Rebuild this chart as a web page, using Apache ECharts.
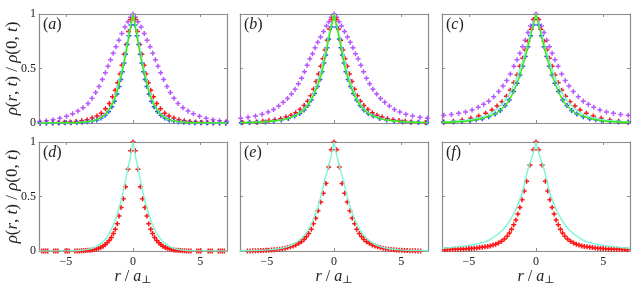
<!DOCTYPE html>
<html><head><meta charset="utf-8">
<script src="https://cdn.jsdelivr.net/npm/echarts@6/dist/echarts.min.js"></script>
<style>html,body{margin:0;padding:0;background:#fff}#c{width:636px;height:287px}</style>
</head><body><div id="c"></div>
<script>
// ---- data (right half r>=0, profiles are symmetric in r) ----
const xTicks = [-5, 0, 5];
const yTicks = [0, 0.5, 1];
const panelLabels = ['a','b','c','d','e','f'];

const purpleA = [[0,1],[0.18,0.97],[0.37,0.93],[0.6,0.88],[0.84,0.82],[1.05,0.76],[1.27,0.7],[1.47,0.64],[1.67,0.58],[1.86,0.52],[2.06,0.46],[2.28,0.4],[2.53,0.335],[2.78,0.28],[3.05,0.227],[3.35,0.18],[3.72,0.14],[4.1,0.11],[4.5,0.085],[4.95,0.062],[5.45,0.044],[5.95,0.03],[6.45,0.02],[6.95,0.014]];
const redA = [[0.17,0.95],[0.33,0.84],[0.5,0.72],[0.66,0.63],[0.82,0.53],[0.96,0.45],[1.14,0.37],[1.32,0.3],[1.52,0.24],[1.76,0.18],[2.05,0.13],[2.36,0.09],[2.68,0.065],[3.04,0.045],[3.42,0.03],[3.82,0.02],[4.24,0.013],[4.68,0.009],[5.12,0.006],[5.56,0.004],[6.0,0.003],[6.45,0.002],[6.9,0.001]];
const blueA = [[0.15,0.9],[0.3,0.8],[0.43,0.72],[0.55,0.63],[0.67,0.55],[0.79,0.47],[0.91,0.4],[1.04,0.335],[1.2,0.265],[1.38,0.2],[1.58,0.15],[1.82,0.105],[2.08,0.07],[2.38,0.045],[2.7,0.028],[3.04,0.018],[3.4,0.011],[3.78,0.007],[4.18,0.004],[4.6,0.003],[5.04,0.002],[5.5,0.001],[5.96,0.001],[6.44,0],[6.92,0]];
const greenA = [[0,1],[0.1,0.93],[0.2,0.86],[0.35,0.76],[0.5,0.65],[0.65,0.56],[0.8,0.47],[1.0,0.37],[1.2,0.28],[1.4,0.21],[1.6,0.16],[1.8,0.12],[2.0,0.085],[2.3,0.055],[2.6,0.035],[3.0,0.02],[3.5,0.01],[4.0,0.005],[5,0.002],[7,0]];
const cyanA = [[0,1],[0.1,0.95],[0.2,0.89],[0.35,0.79],[0.5,0.69],[0.65,0.59],[0.8,0.5],[1.0,0.4],[1.2,0.3],[1.4,0.225],[1.6,0.17],[1.8,0.125],[2.0,0.09],[2.3,0.058],[2.6,0.037],[3.0,0.021],[3.5,0.01],[4.0,0.005],[5,0.002],[7,0]];

const purpleB = [[0,1],[0.2,0.97],[0.37,0.93],[0.56,0.89],[0.78,0.84],[1.0,0.79],[1.21,0.74],[1.41,0.69],[1.6,0.635],[1.8,0.59],[2.0,0.53],[2.2,0.47],[2.42,0.41],[2.65,0.36],[2.9,0.31],[3.17,0.265],[3.46,0.225],[3.78,0.19],[4.12,0.155],[4.5,0.125],[4.9,0.1],[5.35,0.08],[5.85,0.065],[6.4,0.053],[6.95,0.044]];
const redB = [[0.17,0.95],[0.33,0.86],[0.5,0.76],[0.66,0.67],[0.82,0.59],[0.98,0.52],[1.15,0.45],[1.33,0.38],[1.52,0.31],[1.73,0.25],[1.96,0.2],[2.22,0.16],[2.52,0.125],[2.85,0.095],[3.2,0.072],[3.58,0.054],[3.98,0.04],[4.4,0.03],[4.84,0.022],[5.3,0.015],[5.78,0.01],[6.28,0.007],[6.8,0.005]];
const blueB = [[0.2,0.88],[0.4,0.77],[0.52,0.69],[0.62,0.625],[0.75,0.55],[0.89,0.47],[1.05,0.4],[1.24,0.334],[1.45,0.27],[1.69,0.21],[1.95,0.16],[2.23,0.12],[2.55,0.088],[2.93,0.064],[3.4,0.042],[3.92,0.027],[4.5,0.016],[5.1,0.01],[5.7,0.006],[6.3,0.004],[6.9,0.003]];
const greenB = [[0,1],[0.1,0.94],[0.2,0.88],[0.4,0.77],[0.62,0.625],[0.89,0.47],[1.24,0.334],[1.69,0.21],[2.23,0.12],[2.93,0.064],[3.92,0.027],[5.4,0.009],[7,0.003]];
const cyanB = [[0,1],[0.1,0.95],[0.2,0.9],[0.4,0.8],[0.62,0.67],[0.89,0.52],[1.24,0.37],[1.69,0.23],[2.23,0.13],[2.93,0.068],[3.92,0.028],[5.4,0.009],[7,0.003]];

const purpleC = [[0,1],[0.2,0.95],[0.4,0.89],[0.6,0.83],[0.8,0.76],[1.0,0.7],[1.2,0.64],[1.41,0.58],[1.65,0.52],[1.91,0.45],[2.18,0.39],[2.46,0.34],[2.78,0.29],[3.15,0.24],[3.52,0.2],[3.9,0.172],[4.3,0.145],[4.76,0.12],[5.25,0.102],[5.76,0.089],[6.3,0.078],[6.87,0.07]];
const redC = [[0.17,0.95],[0.35,0.86],[0.6,0.75],[0.8,0.67],[0.99,0.595],[1.2,0.52],[1.41,0.44],[1.65,0.37],[1.91,0.3],[2.2,0.245],[2.53,0.196],[2.9,0.155],[3.28,0.12],[3.75,0.09],[4.27,0.064],[4.85,0.044],[5.5,0.028],[6.15,0.017],[6.87,0.01]];
const blueC = [[0.2,0.9],[0.4,0.8],[0.6,0.7],[0.8,0.61],[0.99,0.52],[1.2,0.44],[1.41,0.365],[1.68,0.29],[1.99,0.21],[2.3,0.16],[2.66,0.114],[3.05,0.083],[3.52,0.058],[4.0,0.04],[4.45,0.029],[4.9,0.021],[5.5,0.014],[6.15,0.009],[6.87,0.006]];
const greenC = [[0,1],[0.1,0.95],[0.2,0.9],[0.4,0.8],[0.6,0.7],[0.99,0.52],[1.41,0.365],[1.99,0.21],[2.66,0.114],[3.52,0.058],[4.9,0.021],[7,0.005]];
const cyanC = [[0,1],[0.1,0.96],[0.2,0.91],[0.4,0.82],[0.6,0.73],[0.99,0.57],[1.41,0.42],[1.99,0.265],[2.66,0.155],[3.52,0.08],[4.9,0.03],[7,0.008]];

const redD = [[0,1],[0.17,0.92],[0.37,0.75],[0.55,0.59],[0.72,0.48],[0.89,0.4],[1.04,0.32],[1.17,0.25],[1.32,0.2],[1.46,0.16],[1.61,0.125],[1.77,0.097],[1.93,0.075],[2.08,0.057],[2.23,0.043],[2.4,0.033],[2.56,0.025],[2.72,0.019],[2.88,0.014],[3.04,0.01],[3.2,0.008],[3.36,0.006],[3.52,0.004],[3.68,0.003],[3.84,0.002],[4.0,0.001],[4.16,0.001],[4.32,0],[4.75,0],[4.9,0],[5.05,0],[5.6,0],[5.75,0],[5.9,0],[6.35,0],[6.5,0],[6.65,0],[6.8,0]];
const cyanD = [[0,1],[0.1,0.93],[0.2,0.86],[0.37,0.76],[0.62,0.61],[0.87,0.47],[1.12,0.36],[1.36,0.27],[1.61,0.2],[1.85,0.145],[2.11,0.1],[2.35,0.072],[2.6,0.05],[3.0,0.027],[3.35,0.015],[4,0.005],[5,0.001],[7,0]];

const redE = [[0,1],[0.2,0.93],[0.4,0.77],[0.6,0.62],[0.8,0.53],[0.99,0.45],[1.19,0.37],[1.36,0.3],[1.54,0.25],[1.69,0.2],[1.89,0.16],[2.06,0.13],[2.23,0.105],[2.43,0.085],[2.63,0.07],[2.85,0.056],[3.05,0.046],[3.25,0.038],[3.45,0.031],[3.65,0.026],[3.85,0.021],[4.05,0.017],[4.25,0.014],[4.45,0.011],[4.65,0.009],[4.85,0.007],[5.05,0.006],[5.25,0.005],[5.45,0.004],[5.65,0.003],[5.85,0.002],[6.05,0.002],[6.25,0.001],[6.45,0.001]];
const cyanE = [[0,1],[0.1,0.94],[0.2,0.88],[0.4,0.78],[0.69,0.65],[0.9,0.54],[1.19,0.41],[1.5,0.3],[1.94,0.19],[2.4,0.12],[2.93,0.07],[3.4,0.042],[3.92,0.025],[4.9,0.01],[6,0.004],[7,0.002]];

const redF = [[0,1],[0.2,0.93],[0.45,0.79],[0.7,0.64],[0.88,0.55],[1.04,0.47],[1.2,0.4],[1.35,0.34],[1.5,0.285],[1.66,0.24],[1.82,0.2],[1.98,0.165],[2.15,0.135],[2.35,0.11],[2.57,0.09],[2.8,0.074],[3.0,0.062],[3.2,0.054],[3.4,0.047],[3.6,0.042],[3.8,0.038],[4.0,0.034],[4.2,0.031],[4.4,0.028],[4.6,0.026],[4.8,0.024],[5.0,0.022],[5.2,0.02],[5.4,0.019],[5.6,0.018],[5.8,0.017],[6.0,0.016],[6.2,0.015],[6.4,0.014],[6.6,0.013],[6.8,0.012]];
const cyanF = [[0,1],[0.1,0.95],[0.2,0.9],[0.35,0.84],[0.55,0.77],[0.8,0.65],[1.04,0.53],[1.4,0.41],[1.79,0.31],[2.25,0.225],[2.78,0.16],[3.5,0.1],[4.27,0.068],[5,0.052],[5.76,0.04],[6.4,0.031],[7,0.025]];

// ---- styling ----
const RED = '#ff1414', BLUE = '#2f52ff', PURPLE = '#b857ff', GREEN = '#3ee80e', CYAN = '#78f7d6';
const FRAME = '#8a8a8a';
const SERIF = '"Liberation Serif","DejaVu Serif",serif';
const PLUS = 'path://M3.5,0H6.5V3.5H10V6.5H6.5V10H3.5V6.5H0V3.5H3.5Z';

function mirror(half) {
  const out = [];
  half.forEach(([r, v]) => { if (r === 0) out.push([0, v]); else { out.push([-r, v]); out.push([r, v]); } });
  return out.sort((a, b) => a[0] - b[0]);
}

const panels = [
  { m: [[purpleA, PURPLE], [redA, RED], [blueA, BLUE]], l: [[cyanA, CYAN], [greenA, GREEN]] },
  { m: [[purpleB, PURPLE], [redB, RED], [blueB, BLUE]], l: [[cyanB, CYAN], [greenB, GREEN]] },
  { m: [[purpleC, PURPLE], [redC, RED], [blueC, BLUE]], l: [[cyanC, CYAN], [greenC, GREEN]] },
  { m: [[redD, RED]], l: [[cyanD, CYAN]] },
  { m: [[redE, RED]], l: [[cyanE, CYAN]] },
  { m: [[redF, RED]], l: [[cyanF, CYAN]] }
];

const lefts = [39, 240, 442], tops = [14, 142], W = 188, H = 109;
const grid = [], xAxis = [], yAxis = [], series = [], graphic = [];

panels.forEach((p, i) => {
  const col = i % 3, row = Math.floor(i / 3);
  grid.push({ left: lefts[col], top: tops[row], width: W, height: H, show: false });
  const tick = { show: true, inside: true, length: 3, lineStyle: { color: FRAME } };
  const line = { show: true, onZero: false, lineStyle: { color: FRAME, width: 1.2 } };
  xAxis.push({ gridIndex: i, type: 'value', min: -7, max: 7, position: 'bottom',
    axisLine: line, splitLine: { show: false },
    axisTick: Object.assign({ customValues: xTicks }, tick),
    axisLabel: { show: row === 1, customValues: xTicks, margin: 5, color: '#222', fontFamily: SERIF, fontSize: 12,
      formatter: v => String(v).replace('-', '\u2212') } });
  xAxis.push({ gridIndex: i, type: 'value', min: -7, max: 7, position: 'top',
    axisLine: line, splitLine: { show: false },
    axisTick: Object.assign({ customValues: xTicks }, tick), axisLabel: { show: false } });
  yAxis.push({ gridIndex: i, type: 'value', min: 0, max: 1, position: 'left',
    axisLine: line, splitLine: { show: false },
    axisTick: Object.assign({ customValues: yTicks }, tick),
    axisLabel: { show: col === 0, customValues: yTicks, margin: 3, color: '#222', fontFamily: SERIF, fontSize: 12 } });
  yAxis.push({ gridIndex: i, type: 'value', min: 0, max: 1, position: 'right',
    axisLine: line, splitLine: { show: false },
    axisTick: Object.assign({ customValues: yTicks }, tick), axisLabel: { show: false } });

  p.m.forEach(([d, c]) => series.push({ type: 'scatter', xAxisIndex: 2 * i, yAxisIndex: 2 * i,
    data: mirror(d), symbol: PLUS, symbolSize: 5, itemStyle: { color: c, opacity: 1 }, silent: true, z: 2 }));
  p.l.forEach(([d, c]) => series.push({ type: 'line', xAxisIndex: 2 * i, yAxisIndex: 2 * i,
    data: mirror(d), showSymbol: false, smooth: 0.3, lineStyle: { color: c, width: 1.4 }, silent: true, z: 3 }));

  graphic.push({ type: 'text', left: lefts[col] + 4, top: tops[row] + 3,
    style: { text: '{n|(}{i|' + panelLabels[i] + '}{n|)}', rich: {
      n: { fontFamily: SERIF, fontSize: 16, fill: '#222' },
      i: { fontFamily: SERIF, fontSize: 16, fontStyle: 'italic', fill: '#222' } } }, z: 10 });
  if (row === 1) {
    graphic.push({ type: 'text', x: lefts[col] + W / 2, y: 277,
      style: { text: '{i|r}{n| / }{i|a}{s|⊥}', align: 'center', verticalAlign: 'middle', rich: {
        i: { fontFamily: SERIF, fontSize: 16, fontStyle: 'italic', fill: '#222' },
        n: { fontFamily: SERIF, fontSize: 16, fill: '#222' },
        s: { fontFamily: SERIF, fontSize: 11, fill: '#222', padding: [6, 0, 0, 0] } } }, z: 10 });
  }
  if (col === 0) {
    graphic.push({ type: 'text', x: 13, y: tops[row] + H / 2, rotation: Math.PI / 2,
      style: { text: '{i|ρ}{n|(}{i|r}{n|, }{i|t}{n|) / }{i|ρ}{n|(0, }{i|t}{n|)}', align: 'center', verticalAlign: 'middle', rich: {
        i: { fontFamily: SERIF, fontSize: 17, fontStyle: 'italic', fill: '#222' },
        n: { fontFamily: SERIF, fontSize: 17, fill: '#222' } } }, z: 10 });
  }
});

const chart = echarts.init(document.getElementById('c'), null, { renderer: 'canvas' });
chart.setOption({ animation: false, backgroundColor: '#fff', grid, xAxis, yAxis, series, graphic });
</script></body></html>
